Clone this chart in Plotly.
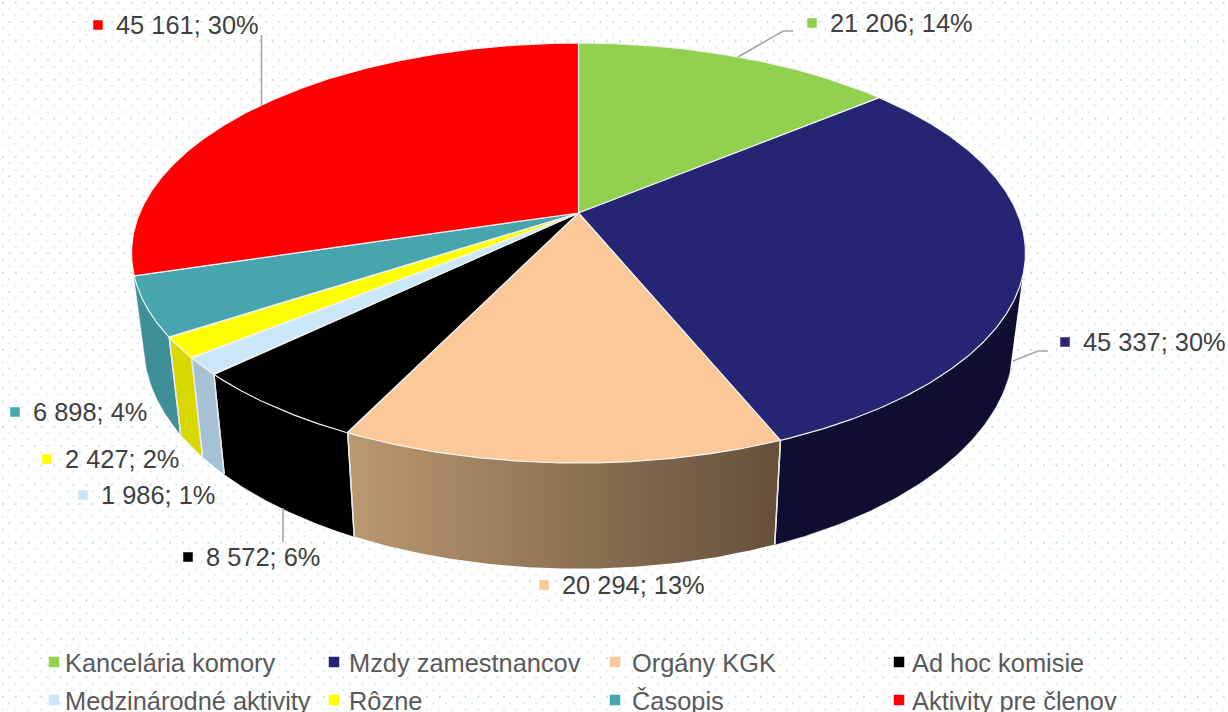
import base64
import numpy as np
import plotly.graph_objects as go

categories = ["Kancelária komory", "Mzdy zamestnancov", "Orgány KGK", "Ad hoc komisie",
              "Medzinárodné aktivity", "Rôzne", "Časopis", "Aktivity pre členov"]
values = [21206, 45337, 20294, 8572, 1986, 2427, 6898, 45161]
percents = [14, 30, 13, 6, 1, 2, 4, 30]

colors = ["#92D050", "#252573", "#FBC897", "#000000", "#CAE7F9", "#FFFF00", "#46A5AE", "#FF0000"]
wall_colors = ["#92D050", "#0E0E30", "#B8956F", "#000000", "#A6C1D3", "#D8D800", "#3F8F98", "#FF0000"]

FONT = "Liberation Sans, Arial, sans-serif"

# Projection of the pie's disc onto the drawing plane
CX, CY, A, B, K = 578.5, 213.0, 438.8, 202.4, 0.1905
DROP, SX, SY = 88.4, 0.972, 1.069
WALL_FROM = 276.0


def top(theta):
    X, Y = np.sin(theta), np.cos(theta)
    w = 1 + K * Y
    return CX + A * X / w, CY - B * Y / w


def bottom(theta):
    x, y = top(theta)
    return CX + SX * (x - CX), CY + DROP + SY * (y - CY)


edges = 2 * np.pi * np.cumsum([0] + values) / sum(values)
fig = go.Figure()

# Dotted background tile
strong, faint = "#B4DCE1", "#D2EAED"
rows = [(2.85, 2.7, strong), (9.3, 9.1, faint), (2.85, 15.5, faint),
        (9.3, 22.0, strong), (2.85, 28.4, faint), (9.3, 34.9, faint)]
dots = "".join(f'<rect x="{x - 0.9}" y="{y - 0.9}" width="1.8" height="1.8" fill="{c}"/>'
               for x, y, c in rows)
svg = ('<svg xmlns="http://www.w3.org/2000/svg" width="1228" height="712"><defs>'
       '<pattern id="p" width="12.85" height="38.56" patternUnits="userSpaceOnUse">'
       + dots + '</pattern></defs><rect width="1228" height="712" fill="url(#p)"/></svg>')
uri = "data:image/svg+xml;base64," + base64.b64encode(svg.encode()).decode()
images = [dict(source=uri, xref="x", yref="y", x=0, y=0, sizex=1228, sizey=712,
               sizing="stretch", layer="below", xanchor="left", yanchor="top")]

# Outer walls
seams_x, seams_y = [], []
for i, c in enumerate(wall_colors):
    th = np.linspace(edges[i], edges[i + 1], 200)
    tx, ty = top(th)
    keep = ty >= WALL_FROM
    if keep.sum() < 2:
        continue
    th = th[keep]
    tx, ty = top(th)
    bx, by = bottom(th)
    kw = dict(fillcolor=c)
    line_color = c
    if categories[i] == "Orgány KGK":
        kw = dict(fillgradient=dict(type="horizontal",
                                    colorscale=[[0, "#BB9870"], [1, "#64503A"]]))
        line_color = "rgba(0,0,0,0)"
    fig.add_trace(go.Scatter(x=np.r_[tx, bx[::-1]], y=np.r_[ty, by[::-1]], mode="lines",
                             fill="toself", line=dict(width=0.6, color=line_color),
                             hoverinfo="skip", showlegend=False, **kw))
    seams_x += [tx[0], bx[0], None, tx[-1], bx[-1], None]
    seams_y += [ty[0], by[0], None, ty[-1], by[-1], None]
fig.add_trace(go.Scatter(x=seams_x[3:-3], y=seams_y[3:-3], mode="lines", hoverinfo="skip",
                         line=dict(color="#E8E8E8", width=1.4), showlegend=False))

# Top face
for i, c in enumerate(colors):
    th = np.linspace(edges[i], edges[i + 1], 240)
    tx, ty = top(th)
    fig.add_trace(go.Scatter(x=np.r_[CX, tx, CX], y=np.r_[CY, ty, CY], mode="lines",
                             fill="toself", fillcolor=c, name=categories[i],
                             line=dict(color="#F2F2F2", width=1.2),
                             text=f"{categories[i]}: {values[i]:,}".replace(",", " "),
                             hoverinfo="text", showlegend=False))

# Leader lines
leaders = [([738, 783, 793], [57, 31, 31]),
           ([1013, 1038, 1048], [361, 351, 351]),
           ([283, 283], [508, 542]),
           ([261.5, 261.5], [106, 35])]
for lx, ly in leaders:
    fig.add_trace(go.Scatter(x=lx, y=ly, mode="lines", hoverinfo="skip", showlegend=False,
                             line=dict(color="#A6A6A6", width=1.6)))

# Data labels and keys
label_pos = [(812, 23), (1065, 342), (544, 585), (188, 557),
             (83, 495), (47, 459), (15, 412), (98, 25)]
legend_pos = [(54, 662), (334, 662), (615, 662), (899, 662),
              (54, 700), (334, 700), (615, 700), (899, 700)]
legend_text_x = [64, 347.5, 631, 910.5, 64, 347.5, 631, 910.5]

annotations = []
for i, c in enumerate(colors):
    lx, ly = label_pos[i]
    gx, gy = legend_pos[i]
    fig.add_trace(go.Scatter(x=[lx], y=[ly], mode="markers", hoverinfo="skip", showlegend=False,
                             marker=dict(symbol="square", size=9.5, color=c)))
    fig.add_trace(go.Scatter(x=[gx], y=[gy], mode="markers", hoverinfo="skip", showlegend=False,
                             marker=dict(symbol="square", size=10.5, color=c)))
    label = f"{values[i]:,}".replace(",", " ") + f"; {percents[i]}%"
    annotations.append(dict(x=lx + 17.3, y=ly, text=label, xanchor="left", yanchor="middle",
                            showarrow=False, borderpad=0, xref="x", yref="y",
                            font=dict(family=FONT, size=25.4, color="#404040")))
    annotations.append(dict(x=legend_text_x[i], y=gy + 0.5, text=categories[i], xanchor="left",
                            yanchor="middle", showarrow=False, borderpad=0, xref="x", yref="y",
                            font=dict(family=FONT, size=25.4, color="#595959")))

fig.update_layout(
    width=1228, height=712, margin=dict(l=0, r=0, t=0, b=0),
    paper_bgcolor="white", plot_bgcolor="white", showlegend=False,
    xaxis=dict(range=[0, 1228], visible=False, fixedrange=True),
    yaxis=dict(range=[712, 0], visible=False, fixedrange=True),
    images=images, annotations=annotations,
)
fig.write_html("out.html", config=dict(displayModeBar=False),
               post_script="document.body.style.margin='0';document.body.style.overflow='hidden';")
